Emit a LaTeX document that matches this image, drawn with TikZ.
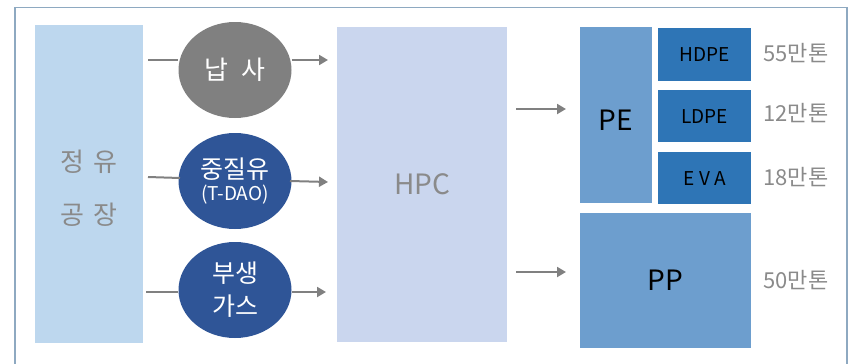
\documentclass[tikz,border=0pt]{standalone}
\usepackage{fontspec}
\setmainfont{Noto Sans CJK KR}
\usetikzlibrary{arrows.meta,shapes.geometric}
\definecolor{frameC}{HTML}{8EA9C1}
\definecolor{refC}{HTML}{BDD7EE}
\definecolor{hpcC}{HTML}{CAD6EE}
\definecolor{naphC}{HTML}{808080}
\definecolor{darkC}{HTML}{2F5597}
\definecolor{peC}{HTML}{6D9ECE}
\definecolor{subC}{HTML}{2E75B6}
\definecolor{txtG}{HTML}{8A8A8A}
\definecolor{arrC}{HTML}{808080}
\begin{document}
\begin{tikzpicture}[x=1pt,y=-1pt,
  boxs/.style={draw=none,inner sep=0pt,anchor=north west},
  ell/.style={ellipse,minimum width=113pt,minimum height=96pt,inner sep=0pt,text=white,align=center},
  flow/.style={draw=arrC,line width=2pt,-{Triangle[length=9pt,width=10pt]}},
  feed/.style={draw=arrC,line width=2pt},
  amt/.style={text=txtG,font=\fontsize{22}{24}\selectfont}
]
\useasboundingbox (0,0) rectangle (849,364);
% frame
\draw[frameC,line width=1.6pt] (15,364) -- (15,7.5) -- (847,7.5) -- (847,364);
% boxes
\node[boxs,fill=refC,minimum width=108pt,minimum height=318pt] (ref) at (35,25) {};
\node[text=txtG,font=\fontsize{26}{53}\selectfont,align=center] (reft) at (89,188) {정\hspace{9pt}유\\공\hspace{9pt}장};
\node[boxs,fill=hpcC,minimum width=170pt,minimum height=315pt] (hpc) at (337,27) {};
\node[text=txtG,font=\fontsize{28}{30}\selectfont] (hpct) at (hpc.center) {HPC};
\node[boxs,fill=peC,minimum width=72pt,minimum height=176pt] (pe) at (580,27) {};
\node[font=\fontsize{28}{30}\selectfont] (pet) at (616,120) {PE};
\node[boxs,fill=subC,minimum width=93pt,minimum height=53pt] (hdpe) at (658,28) {};
\node[font=\fontsize{19}{20}\selectfont] (hdpet) at (hdpe.center) {HDPE};
\node[boxs,fill=subC,minimum width=93pt,minimum height=52pt] (ldpe) at (658,90) {};
\node[font=\fontsize{19}{20}\selectfont] (ldpet) at (ldpe.center) {LDPE};
\node[boxs,fill=subC,minimum width=93pt,minimum height=52pt] (eva) at (658,152) {};
\node[font=\fontsize{19}{20}\selectfont] (evat) at (eva.center) {E V A};
\node[boxs,fill=peC,minimum width=171pt,minimum height=135pt] (pp) at (580,213) {};
\node[font=\fontsize{28}{30}\selectfont] (ppt) at (pp.center) {PP};
% amounts
\node[amt] (m1) at (796,53) {55만톤};
\node[amt] (m2) at (796,113) {12만톤};
\node[amt] (m3) at (796,177) {18만톤};
\node[amt] (m4) at (796,280) {50만톤};
% ellipses
\node[ell,fill=naphC,font=\fontsize{26}{28}\selectfont] (naph) at (235,70) {납\hspace{14pt}사};
\node[ell,fill=darkC,font=\fontsize{25}{28}\selectfont] (heavy) at (235,181) {중질유\\[-6pt]{\fontsize{19}{20}\selectfont (T-DAO)}};
\node[ell,fill=darkC,font=\fontsize{25}{33}\selectfont] (gas) at (235,290) {부생\\가스};
% connectors
\coordinate (a1) at (148,60);
\coordinate (a2) at (148,177);
\coordinate (a2e) at (180,178);
\coordinate (a3) at (146,292);
\coordinate (b1) at (328,60);
\coordinate (b2) at (328,182);
\coordinate (b2s) at (290,181);
\coordinate (b3) at (326,292);
\draw[feed] (a1) -- (naph.west |- a1);
\draw[feed] (a2) -- (a2e);
\draw[feed] (a3) -- (gas.west |- a3);
\draw[flow] (naph.east |- b1) -- (b1);
\draw[flow] (b2s) -- (b2);
\draw[flow] (gas.east |- b3) -- (b3);
\coordinate (c1s) at (516,109);
\coordinate (c1) at (566,109);
\coordinate (c2s) at (516,272);
\coordinate (c2) at (566,272);
\draw[flow] (c1s) -- (c1);
\draw[flow] (c2s) -- (c2);
\end{tikzpicture}
\end{document}
